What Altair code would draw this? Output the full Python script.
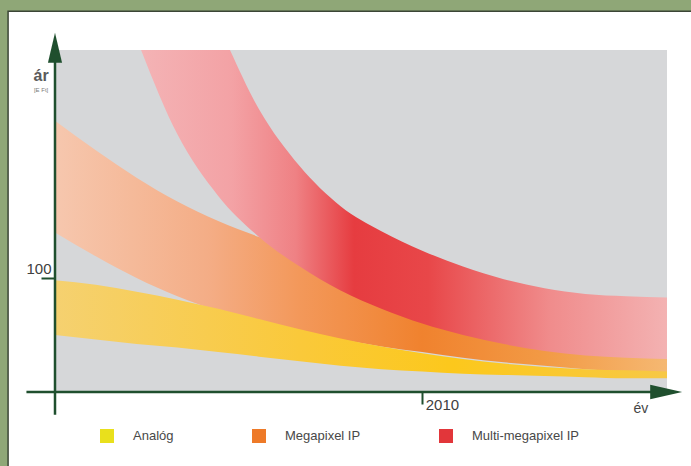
import altair as alt
import pandas as pd

# ---- data ----
YEARS = list(range(2001, 2017))
ANALOG_HI = [98, 94, 88, 81, 73, 64, 55, 47, 40, 34, 29, 25, 22, 20, 19, 18]
ANALOG_LO = [50, 46, 42, 39, 35, 31, 27, 23, 20, 18, 16, 15, 14, 13, 12, 12]
MEGA_HI = [238, 212, 188, 167, 150, 136, 124, 113, 103, 94, 86, 78, 71, 65, 59, 54]
MEGA_LO = [140, 119, 100, 84, 71, 61, 53, 46, 40, 35, 30, 26, 23, 20, 18, 16]
RED_YEARS = [2003, 2004, 2005, 2006, 2007, 2008, 2009, 2010, 2011, 2012, 2013, 2014, 2015, 2016]
MULTI_HI = [470, 395, 322, 248, 198, 163, 141, 124, 110, 99, 91, 86, 84, 83]
MULTI_LO = [310, 226, 172, 136, 110, 89, 73, 60, 50, 42, 36, 32, 30, 29]

SERIES = ["Analóg", "Megapixel IP", "Multi-megapixel IP"]
SERIES_COLORS = ["#e9e01c", "#ee7a28", "#e2363a"]
Y_TICKS = [100]
X_TICKS = [2010]
Y_TITLE = "ár"
Y_UNIT = "[E Ft]"
X_TITLE = "év"

AX_GREEN = "#1f4f2e"
FONT = "Liberation Sans"

xs = alt.Scale(domain=[2001, 2016], nice=False, zero=False)
ys = alt.Scale(domain=[0, 300], nice=False, zero=False)
xax = alt.Axis(values=X_TICKS, domain=False, grid=False, tickSize=12, tickColor=AX_GREEN,
               tickWidth=2, labelAlign="left", labelBaseline="top", labelPadding=-7,
               labelOffset=3, labelFontSize=15, labelFont=FONT, labelColor="#404040",
               title=None, format="d", zindex=2)
yax = alt.Axis(values=Y_TICKS, domain=False, grid=False, tickSize=14, tickColor=AX_GREEN,
               tickWidth=2, labelPadding=-10, labelBaseline="bottom", labelOffset=-2,
               labelFontSize=15, labelFont=FONT, labelColor="#404040", title=None, zindex=2)


def X(f):
    return alt.X(f, type="quantitative", scale=xs, axis=xax)


def Y(f):
    return alt.Y(f, type="quantitative", scale=ys, axis=yax)


def grad(stops):
    return alt.Gradient(gradient="linear", x1=0, x2=1, y1=0, y2=0,
                        stops=[alt.GradientStop(color=c, offset=o) for o, c in stops])


# white panel with a green frame (chart background is green)
panel_df = pd.DataFrame({"x": [1999.85], "x2": [2017.5], "y": [334], "y2": [-80]})
panel = alt.Chart(panel_df).mark_rect(fill="white", stroke="#3b4636", strokeWidth=1.5).encode(
    x=X("x"), x2="x2", y=Y("y"), y2="y2")

gray_df = pd.DataFrame({"x": [2001], "x2": [2016], "y": [300], "y2": [0]})
gray = alt.Chart(gray_df).mark_rect(fill="#d6d7d9").encode(x=X("x"), x2="x2", y=Y("y"), y2="y2")

mega_df = pd.DataFrame({"year": YEARS, "hi": MEGA_HI, "lo": MEGA_LO})
mega = alt.Chart(mega_df).mark_area(interpolate="monotone", color=grad([
    (0, "#f6c7ae"), (0.25, "#f4ad86"), (0.4, "#f3985a"), (0.6, "#f0822e"),
    (0.8, "#f29a45"), (1, "#f5b872")])).encode(x=X("year"), y=Y("hi"), y2="lo")

analog_df = pd.DataFrame({"year": YEARS, "hi": ANALOG_HI, "lo": ANALOG_LO})
analog = alt.Chart(analog_df).mark_area(interpolate="monotone", color=grad([
    (0, "#f5d170"), (0.4, "#fac93a"), (0.65, "#fcc81c"), (1, "#f7c845")])).encode(
    x=X("year"), y=Y("hi"), y2="lo")

multi_df = pd.DataFrame({"year": RED_YEARS, "hi": MULTI_HI, "lo": MULTI_LO})
multi = alt.Chart(multi_df).mark_area(interpolate="monotone", clip=True, color=grad([
    (0, "#f4b4b6"), (0.18, "#f3a2a5"), (0.3, "#ef8184"), (0.41, "#e63c40"),
    (0.55, "#e84749"), (0.78, "#f08c8c"), (1, "#f3b2b2")])).encode(
    x=X("year"), y=Y("hi"), y2="lo")

# axis lines with arrows
xline_df = pd.DataFrame({"x": [2000.3], "x2": [2016.05], "y": [0]})
xline = alt.Chart(xline_df).mark_rule(color=AX_GREEN, strokeWidth=2.5).encode(
    x=X("x"), x2="x2", y=Y("y"))
yline_df = pd.DataFrame({"x": [2001], "y": [-20], "y2": [305]})
yline = alt.Chart(yline_df).mark_rule(color=AX_GREEN, strokeWidth=2.5).encode(
    x=X("x"), y=Y("y"), y2="y2")

yarrow_df = pd.DataFrame({"x": [2001], "y": [302]})
yarrow = alt.Chart(yarrow_df).mark_point(shape="M0,-1L0.47,1L-0.47,1Z", filled=True,
                                         color=AX_GREEN, size=900, opacity=1).encode(
    x=X("x"), y=Y("y"))
xarrow_df = pd.DataFrame({"x": [2015.98], "y": [0]})
xarrow = alt.Chart(xarrow_df).mark_point(shape="M1,0L-1,0.45L-1,-0.45Z", filled=True,
                                         color=AX_GREEN, size=1024, opacity=1).encode(
    x=X("x"), y=Y("y"))

# titles
ytitle = alt.Chart(pd.DataFrame({"x": [2000.66], "y": [277], "t": [Y_TITLE]})).mark_text(
    font=FONT, fontSize=16, fontWeight="bold", color="#5a5a5a", align="center", baseline="middle").encode(
    x=X("x"), y=Y("y"), text="t:N")
yunit = alt.Chart(pd.DataFrame({"x": [2000.66], "y": [265], "t": [Y_UNIT]})).mark_text(
    font=FONT, fontSize=6, color="#7a7a7a", align="center", baseline="middle").encode(
    x=X("x"), y=Y("y"), text="t:N")
xtitle = alt.Chart(pd.DataFrame({"x": [2015.36], "y": [-15], "t": [X_TITLE]})).mark_text(
    font=FONT, fontSize=14, color="#454545", align="center", baseline="middle").encode(
    x=X("x"), y=Y("y"), text="t:N")

# legend (off-screen points carry the legend)
leg_df = pd.DataFrame({"x": [2001] * 3, "y": [-250] * 3, "s": SERIES})
leg = alt.Chart(leg_df).mark_square(size=100, opacity=1).encode(
    x=X("x"), y=Y("y"),
    color=alt.Color("s:N", scale=alt.Scale(domain=SERIES, range=SERIES_COLORS),
                    legend=alt.Legend(orient="none", legendX=45, legendY=379,
                                      direction="horizontal", title=None,
                                      symbolType="square", symbolSize=196,
                                      symbolStrokeWidth=0, symbolOpacity=1,
                                      labelFontSize=13, labelFont=FONT,
                                      labelColor="#484848", labelOffset=19,
                                      columnPadding=78)))

chart = alt.layer(panel, gray, mega, analog, multi, xline, yline, yarrow, xarrow,
                  ytitle, yunit, xtitle, leg).properties(
    width=612, height=342,
    padding={"left": 55, "top": 50, "right": 24, "bottom": 74},
    autosize=alt.AutoSizeParams(type="none"),
    background="#8fa777",
).configure_view(stroke=None, fill=None)

chart.save("out.html", embed_options={"renderer": "svg", "actions": False})
